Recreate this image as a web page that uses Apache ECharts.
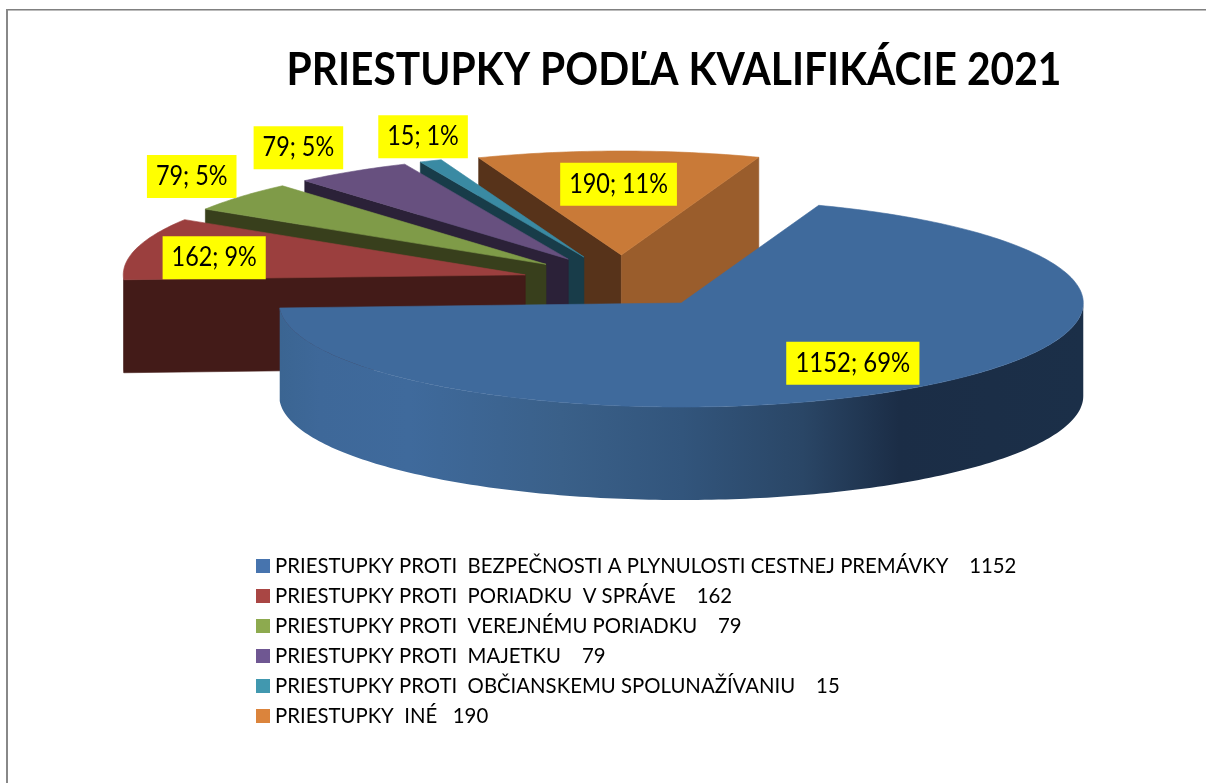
<!DOCTYPE html>
<html>
<head>
<meta charset="utf-8">
<style>
html,body{margin:0;padding:0;background:#fff;}
#c{width:1206px;height:783px;}
</style>
<script src="https://cdn.jsdelivr.net/npm/echarts@6/dist/echarts.min.js"></script>
</head>
<body>
<div id="c"></div>
<script>
const chartTitle = 'PRIESTUPKY PODĽA KVALIFIKÁCIE 2021';
const categories = [
  'PRIESTUPKY PROTI  BEZPEČNOSTI A PLYNULOSTI CESTNEJ PREMÁVKY    1152',
  'PRIESTUPKY PROTI  PORIADKU  V SPRÁVE    162',
  'PRIESTUPKY PROTI  VEREJNÉMU PORIADKU    79',
  'PRIESTUPKY PROTI  MAJETKU    79',
  'PRIESTUPKY PROTI  OBČIANSKEMU SPOLUNAŽÍVANIU    15',
  'PRIESTUPKY  INÉ   190'
];
const values = [1152, 162, 79, 79, 15, 190];
const percents = [69, 9, 5, 5, 1, 11];
const legendColors = ['#4774AE', '#A94644', '#8DAA4F', '#6F5792', '#4198AF', '#DB843C'];
const topColors = ['#3F6A9C', '#9B3F3E', '#7F9B48', '#67507F', '#3A8AA3', '#C97A38'];
const startFaceColors = ['#2B4768', '#431B18', '#383F1C', '#2B2138', '#183C49', '#57331A'];
const endFaceColors = ['#2B4768', '#431B18', '#383F1C', '#2B2138', '#183C49', '#9A5D2C'];
const labelReach = [[0.72, 0.72], [0.8, 0.65], [1.16, 1.3], [1.25, 1.27], [1.05, 1.25], [1.0, 0.68]];
const labelWidthScale = [0.92, 0.9, 0.9, 0.9, 0.9, 0.9];

const CX = 622, CY = 281.6, RX = 402, RY = 104, DEPTH = 93, EXPLODE = 100, EXPLODE_K = 0.266, START = 20;
const total = values.reduce((a, b) => a + b, 0);
const rad = d => d * Math.PI / 180;

function sliceRange(i) {
  let s = START;
  for (let j = 0; j < i; j++) s += values[j] / total * 360;
  return [s, s + values[i] / total * 360];
}
function arc(ax, ay, a, b, dy) {
  const pts = [], n = Math.max(2, Math.ceil(Math.abs(b - a)));
  for (let k = 0; k <= n; k++) {
    const t = rad(a + (b - a) * k / n);
    pts.push([ax + RX * Math.sin(t), ay - RY * Math.cos(t) + dy]);
  }
  return pts;
}
function poly(points, fill, z2) {
  return { type: 'polygon', shape: { points }, style: { fill, stroke: fill, lineWidth: 0.6 }, z2 };
}
const blueWall = new echarts.graphic.LinearGradient(280, 0, 1084, 0, [
  { offset: 0, color: '#3B6592' }, { offset: 0.05, color: '#3E6899' }, { offset: 0.16, color: '#3F6A9C' },
  { offset: 0.35, color: '#3A6089' }, { offset: 0.5, color: '#32557C' }, { offset: 0.65, color: '#2A4666' },
  { offset: 0.77, color: '#1B2D46' }, { offset: 1, color: '#1B2F48' }
], true);

function renderSlice(params) {
  const i = params.seriesIndex;
  const [a, b] = sliceRange(i);
  const m = rad((a + b) / 2);
  const ax = CX + EXPLODE * Math.sin(m), ay = CY - EXPLODE * EXPLODE_K * Math.cos(m);
  const children = [];
  const face = (t, color) => {
    const p = arc(ax, ay, t, t, 0)[0];
    children.push(poly([[ax, ay], p, [p[0], p[1] + DEPTH], [ax, ay + DEPTH]], color, 1));
  };
  if (Math.sin(rad(a)) < 0) face(a, startFaceColors[i]);
  if (Math.sin(rad(b)) > 0) face(b, endFaceColors[i]);
  const w0 = Math.max(a, 90), w1 = Math.min(b, 270);
  if (w1 > w0) {
    const wall = arc(ax, ay, w0, w1, 0).concat(arc(ax, ay, w0, w1, DEPTH).reverse());
    children.push(poly(wall, i === 0 ? blueWall : startFaceColors[i], 2));
    children[children.length - 1].style.stroke = null;
  }
  children.push(poly([[ax, ay]].concat(arc(ax, ay, a, b, 0)), topColors[i], 3));
  const lx = ax + labelReach[i][0] * RX * Math.sin(m);
  const ly = ay - labelReach[i][1] * RY * Math.cos(m);
  children.push({
    type: 'text', x: lx, y: ly, originX: 0, originY: 0, scaleX: labelWidthScale[i], z2: 10,
    style: {
      text: values[i] + '; ' + percents[i] + '%',
      align: 'center', verticalAlign: 'middle',
      font: '26px Lato, "Open Sans", sans-serif', fill: '#000',
      backgroundColor: '#FFFF00', padding: [9, 10, 8, 10]
    }
  });
  return { type: 'group', children };
}

const chart = echarts.init(document.getElementById('c'), null, { renderer: 'canvas' });
chart.setOption({
  animation: false,
  backgroundColor: '#fff',
  legend: {
    orient: 'vertical', left: 251, top: 551,
    itemWidth: 14, itemHeight: 14, itemGap: 10, icon: 'rect',
    selectedMode: false,
    textStyle: { fontFamily: 'Lato, "Open Sans", sans-serif', fontSize: 20.35, color: '#000', padding: [0, 0, 0, 0], lineHeight: 18 },
    data: categories
  },
  graphic: [
    { type: 'rect', shape: { x: 6, y: 9, width: 1200, height: 1 }, style: { fill: '#808080' }, silent: true },
    { type: 'rect', shape: { x: 6, y: 10, width: 1200, height: 1 }, style: { fill: '#BBBBBB' }, silent: true },
    { type: 'rect', shape: { x: 6, y: 9, width: 2, height: 774 }, style: { fill: '#888888' }, silent: true },
    { type: 'text', x: 674, y: 70, scaleX: 0.886, silent: true,
      style: { text: chartTitle, align: 'center', verticalAlign: 'middle',
        font: 'bold 46px Lato, "Open Sans", sans-serif', fill: '#000' } }
  ],
  series: categories.map((name, i) => ({
    type: 'custom', name, coordinateSystem: 'none',
    z: 10 - i,
    itemStyle: { color: legendColors[i] },
    renderItem: renderSlice,
    data: [[values[i]]],
    silent: true
  }))
});
</script>
</body>
</html>
